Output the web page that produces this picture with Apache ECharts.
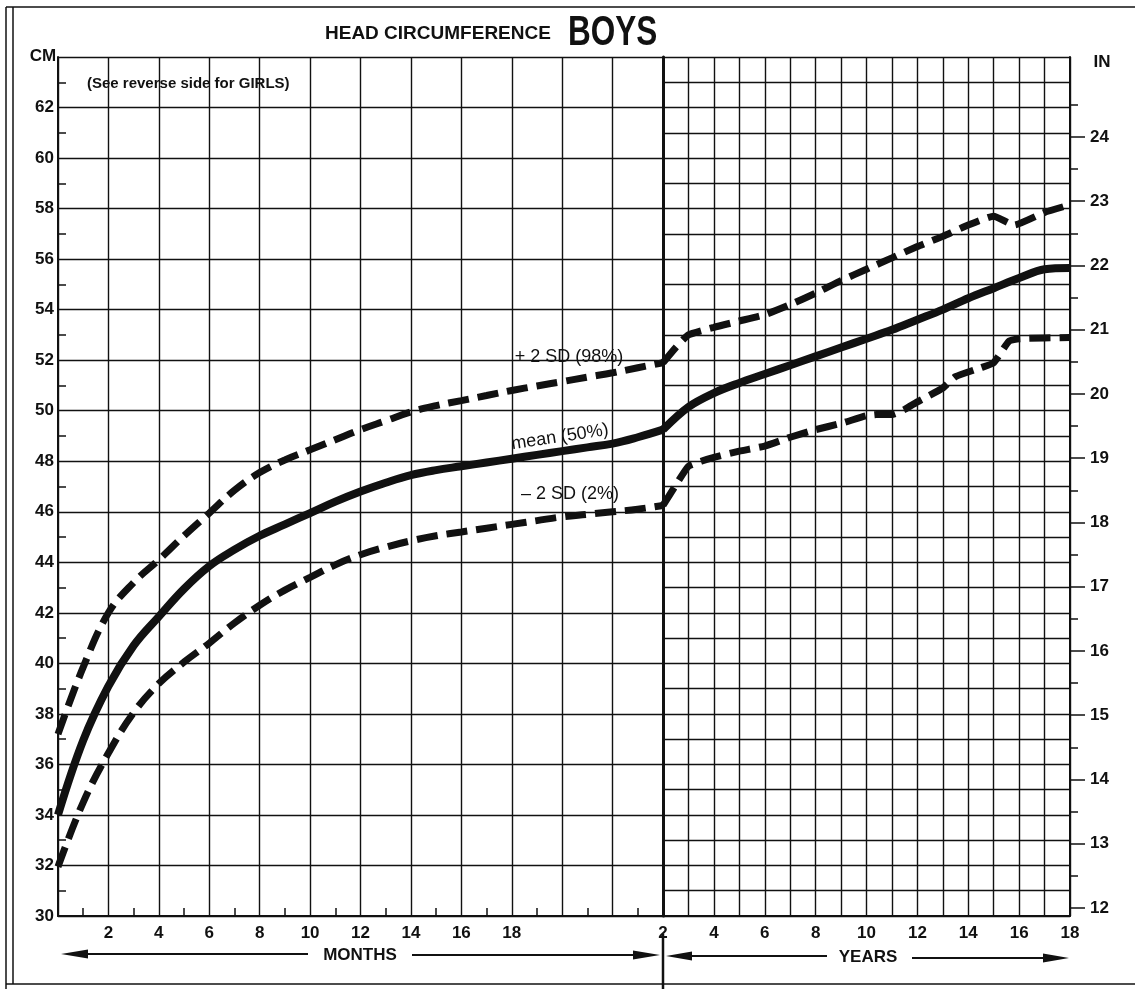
<!DOCTYPE html>
<html>
<head>
<meta charset="utf-8">
<script src="https://cdn.jsdelivr.net/npm/echarts@6/dist/echarts.min.js"></script>
<style>
  html, body { margin: 0; padding: 0; background: #fff; }
  #chart { width: 1135px; height: 989px; }
</style>
</head>
<body>
<div id="chart"></div>
<script>
// ---------- DATA ----------
// Months panel (0-24 months), head circumference in cm
const monthAges   = [0, 1, 2, 3, 4, 5, 6, 7, 8, 9, 10, 11, 12, 13, 14, 15, 16, 17, 18, 19, 20, 21, 22, 23, 24];
const meanMonths  = [34.0, 36.95, 39.1, 40.7, 41.85, 42.95, 43.85, 44.5, 45.05, 45.5, 45.95, 46.4, 46.8, 47.15, 47.45, 47.65, 47.8, 47.95, 48.1, 48.25, 48.4, 48.55, 48.7, 48.95, 49.25];
const upperMonths = [37.2, 39.85, 42.0, 43.2, 44.1, 45.05, 45.95, 46.85, 47.55, 48.05, 48.45, 48.85, 49.25, 49.6, 49.95, 50.2, 50.4, 50.6, 50.8, 50.98, 51.15, 51.33, 51.5, 51.7, 51.9];
const lowerMonths = [31.95, 34.5, 36.45, 38.05, 39.2, 40.05, 40.8, 41.6, 42.3, 42.9, 43.4, 43.9, 44.3, 44.6, 44.85, 45.05, 45.2, 45.35, 45.5, 45.65, 45.8, 45.9, 46.0, 46.1, 46.25];

// Years panel (2-18 years), head circumference in cm
const meanYearAges  = [2, 3, 4, 5, 6, 7, 8, 9, 10, 11, 12, 13, 14, 15, 16, 17, 18];
const meanYears     = [49.25, 50.15, 50.7, 51.1, 51.45, 51.8, 52.15, 52.5, 52.85, 53.2, 53.6, 54.0, 54.45, 54.85, 55.25, 55.6, 55.65];
const upperYearAges = [2, 2.5, 3, 4, 5, 6, 7, 8, 9, 10, 11, 12, 13, 14, 15, 15.8, 17, 18];
const upperYears    = [51.9, 52.5, 53.0, 53.3, 53.55, 53.8, 54.2, 54.65, 55.15, 55.6, 56.05, 56.5, 56.9, 57.35, 57.7, 57.35, 57.85, 58.15];
const lowerYearAges = [2, 2.5, 3, 3.5, 4, 5, 6, 7, 8, 9, 10, 10.4, 11, 11.5, 12, 13, 13.5, 14.5, 15, 15.6, 16, 18];
const lowerYears    = [46.25, 47.05, 47.8, 48.0, 48.15, 48.4, 48.6, 48.95, 49.25, 49.5, 49.8, 49.85, 49.85, 50.05, 50.35, 50.9, 51.35, 51.7, 51.9, 52.75, 52.85, 52.9];

// Tick labels
const cmLabels     = [30, 32, 34, 36, 38, 40, 42, 44, 46, 48, 50, 52, 54, 56, 58, 60, 62];
const cmMinorTicks = [31, 33, 35, 37, 39, 41, 43, 45, 47, 49, 51, 53, 55, 57, 59, 61, 63];
const monthLabels  = [2, 4, 6, 8, 10, 12, 14, 16, 18];
const monthMinorTicks = [1, 3, 5, 7, 9, 11, 13, 15, 17, 19, 21, 23];
const yearLabels   = [2, 4, 6, 8, 10, 12, 14, 16, 18];
const inchLabels   = [12, 13, 14, 15, 16, 17, 18, 19, 20, 21, 22, 23, 24];
const inchHalfTicks = [12.5, 13.5, 14.5, 15.5, 16.5, 17.5, 18.5, 19.5, 20.5, 21.5, 22.5, 23.5, 24.5];
const IN_MIN = 11.8755, IN_MAX = 25.245;

// ---------- CHART ----------
const zip = (xs, ys) => xs.map((x, i) => [x, ys[i]]);
const INK = '#111';
const FONT = '"Liberation Sans", Arial, sans-serif';
const lbl = { color: INK, fontFamily: FONT, fontWeight: 'bold', fontSize: 17 };
const NONE = { show: false };

const chart = echarts.init(document.getElementById('chart'), null, { renderer: 'canvas' });

const solid  = { color: INK, width: 8, type: 'solid', join: 'round' };
const dashed = { color: INK, width: 7, type: [21, 9], cap: 'butt' };

function line(xi, yi, data, style, smooth) {
  return {
    type: 'line', xAxisIndex: xi, yAxisIndex: yi, data: data,
    symbol: 'none', showSymbol: false, smooth: smooth,
    lineStyle: style, z: 5, silent: true, animation: false
  };
}

const option = {
  backgroundColor: '#fff',
  animation: false,
  grid: [
    { left: 58, top: 57, width: 605, height: 859 },
    { left: 663, top: 57, width: 407, height: 859 }
  ],
  xAxis: [
    { // 0: months, grid lines + labels
      type: 'value', gridIndex: 0, min: 0, max: 24, interval: 2, position: 'bottom',
      axisLine: { show: true, onZero: false, lineStyle: { color: INK, width: 2 } },
      axisTick: NONE,
      axisLabel: Object.assign({ customValues: monthLabels, margin: 9 }, lbl),
      splitLine: { show: true, lineStyle: { color: INK, width: 1.4 } }
    },
    { // 1: years
      type: 'value', gridIndex: 1, min: 2, max: 18, interval: 1, position: 'bottom',
      axisLine: { show: true, onZero: false, lineStyle: { color: INK, width: 2 } },
      axisTick: NONE,
      axisLabel: Object.assign({ customValues: yearLabels, margin: 9 }, lbl),
      splitLine: { show: true, lineStyle: { color: INK, width: 1.4 } }
    },
    { // 2: odd-month minor ticks
      type: 'value', gridIndex: 0, min: 0, max: 24, position: 'bottom', offset: 0,
      axisLine: { show: false, onZero: false },
      axisTick: { show: true, inside: true, length: 8, customValues: monthMinorTicks, lineStyle: { color: INK, width: 1.5 } },
      axisLabel: NONE, splitLine: NONE
    }
  ],
  yAxis: [
    { // 0: cm grid + labels
      type: 'value', gridIndex: 0, min: 30, max: 64, interval: 2, position: 'left',
      axisLine: { show: true, onZero: false, lineStyle: { color: INK, width: 2 } },
      axisTick: NONE,
      axisLabel: Object.assign({ customValues: cmLabels, margin: 4 }, lbl),
      splitLine: { show: true, lineStyle: { color: INK, width: 1.4 } }
    },
    { // 1: years panel cm grid (1 cm)
      type: 'value', gridIndex: 1, min: 30, max: 64, interval: 1, position: 'left',
      axisLine: { show: true, onZero: false, lineStyle: { color: INK, width: 3 } },
      axisTick: NONE, axisLabel: NONE,
      splitLine: { show: true, lineStyle: { color: INK, width: 1.4 } }
    },
    { // 2: inches
      type: 'value', gridIndex: 1, min: IN_MIN, max: IN_MAX, position: 'right',
      axisLine: { show: true, onZero: false, lineStyle: { color: INK, width: 2 } },
      axisTick: { show: true, inside: false, length: 15, customValues: inchLabels, lineStyle: { color: INK, width: 1.5 } },
      axisLabel: Object.assign({ customValues: inchLabels, margin: 20 }, lbl),
      splitLine: NONE
    },
    { // 3: half-inch ticks
      type: 'value', gridIndex: 1, min: IN_MIN, max: IN_MAX, position: 'right', offset: 0,
      axisLine: { show: false, onZero: false },
      axisTick: { show: true, inside: false, length: 8, customValues: inchHalfTicks, lineStyle: { color: INK, width: 1.5 } },
      axisLabel: NONE, splitLine: NONE
    },
    { // 4: odd-cm minor ticks
      type: 'value', gridIndex: 0, min: 30, max: 64, position: 'left', offset: 0,
      axisLine: { show: false, onZero: false },
      axisTick: { show: true, inside: true, length: 8, customValues: cmMinorTicks, lineStyle: { color: INK, width: 1.5 } },
      axisLabel: NONE, splitLine: NONE
    }
  ],
  series: [
    line(0, 0, zip(monthAges, upperMonths), dashed, 0.4),
    line(0, 0, zip(monthAges, meanMonths), solid, 0.4),
    line(0, 0, zip(monthAges, lowerMonths), dashed, 0.4),
    line(1, 1, zip(upperYearAges, upperYears), dashed, 0.15),
    line(1, 1, zip(meanYearAges, meanYears), solid, 0.35),
    line(1, 1, zip(lowerYearAges, lowerYears), dashed, 0.15)
  ],
  graphic: [
    // frame
    { type: 'line', shape: { x1: 6, y1: 7, x2: 1135, y2: 7 }, style: { stroke: INK, lineWidth: 1.5 } },
    { type: 'line', shape: { x1: 6, y1: 7, x2: 6, y2: 989 }, style: { stroke: INK, lineWidth: 1.5 } },
    { type: 'line', shape: { x1: 13, y1: 7, x2: 13, y2: 984 }, style: { stroke: INK, lineWidth: 1.5 } },
    { type: 'line', shape: { x1: 6, y1: 984, x2: 1135, y2: 984 }, style: { stroke: INK, lineWidth: 1.5 } },
    // divider below axis
    { type: 'line', shape: { x1: 663, y1: 934, x2: 663, y2: 989 }, style: { stroke: INK, lineWidth: 2.5 } },
    // title
    { type: 'text', style: { text: 'HEAD CIRCUMFERENCE', x: 325, y: 34, font: 'bold 19px ' + FONT, fill: INK, align: 'left', verticalAlign: 'middle' } },
    { type: 'text', x: 568, y: 33, scaleX: 0.75, style: { text: 'BOYS', x: 0, y: 0, font: 'bold 42px ' + FONT, fill: INK, align: 'left', verticalAlign: 'middle' } },
    { type: 'text', style: { text: '(See reverse side for GIRLS)', x: 87, y: 84, font: 'bold 15px ' + FONT, fill: INK, align: 'left', verticalAlign: 'middle' } },
    { type: 'text', style: { text: 'CM', x: 43, y: 56, font: 'bold 17px ' + FONT, fill: INK, align: 'center', verticalAlign: 'middle' } },
    { type: 'text', style: { text: 'IN', x: 1102, y: 62, font: 'bold 17px ' + FONT, fill: INK, align: 'center', verticalAlign: 'middle' } },
    // curve labels
    { type: 'text', z: 10, style: { text: '+ 2 SD (98%)', x: 569, y: 357, font: '18px ' + FONT, fill: INK, align: 'center', verticalAlign: 'middle' } },
    { type: 'text', z: 10, x: 560, y: 437, rotation: 8.5 * Math.PI / 180, style: { text: 'mean (50%)', x: 0, y: 0, font: '18px ' + FONT, fill: INK, align: 'center', verticalAlign: 'middle' } },
    { type: 'text', z: 10, style: { text: '\u2013 2 SD (2%)', x: 570, y: 494, font: '18px ' + FONT, fill: INK, align: 'center', verticalAlign: 'middle' } },
    // MONTHS arrows
    { type: 'text', style: { text: 'MONTHS', x: 360, y: 955, font: 'bold 17px ' + FONT, fill: INK, align: 'center', verticalAlign: 'middle' } },
    { type: 'line', shape: { x1: 86, y1: 954, x2: 308, y2: 954 }, style: { stroke: INK, lineWidth: 2 } },
    { type: 'polygon', shape: { points: [[61, 954], [88, 949.5], [88, 958.5]] }, style: { fill: INK } },
    { type: 'line', shape: { x1: 412, y1: 955, x2: 636, y2: 955 }, style: { stroke: INK, lineWidth: 2 } },
    { type: 'polygon', shape: { points: [[660, 955], [633, 950.5], [633, 959.5]] }, style: { fill: INK } },
    // YEARS arrows
    { type: 'text', style: { text: 'YEARS', x: 868, y: 957, font: 'bold 17px ' + FONT, fill: INK, align: 'center', verticalAlign: 'middle' } },
    { type: 'line', shape: { x1: 690, y1: 956, x2: 827, y2: 956 }, style: { stroke: INK, lineWidth: 2 } },
    { type: 'polygon', shape: { points: [[666, 956], [692, 951.5], [692, 960.5]] }, style: { fill: INK } },
    { type: 'line', shape: { x1: 912, y1: 958, x2: 1046, y2: 958 }, style: { stroke: INK, lineWidth: 2 } },
    { type: 'polygon', shape: { points: [[1069, 958], [1043, 953.5], [1043, 962.5]] }, style: { fill: INK } }
  ]
};

chart.setOption(option);
</script>
</body>
</html>
